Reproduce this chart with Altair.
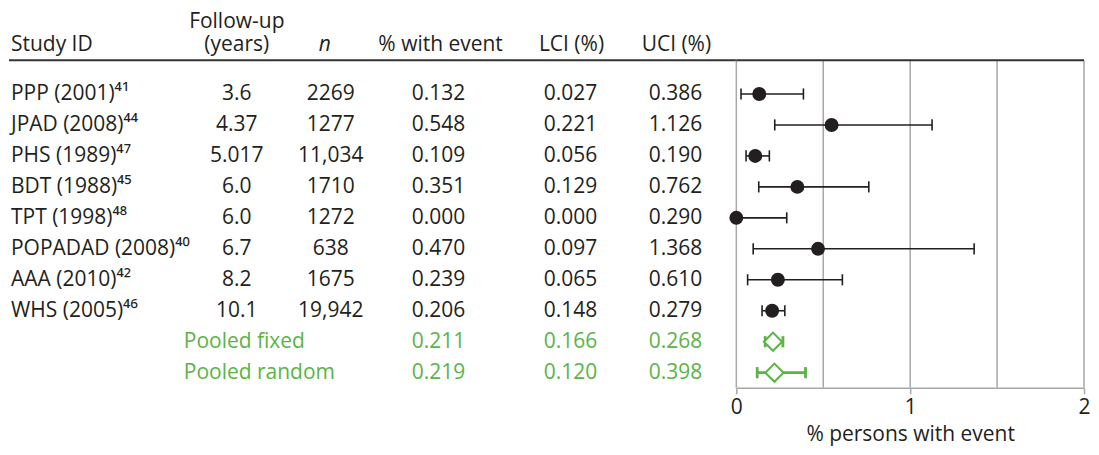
import altair as alt
import pandas as pd

# ---------------- data ----------------
studies = ["PPP (2001)⁴¹", "JPAD (2008)⁴⁴", "PHS (1989)⁴⁷", "BDT (1988)⁴⁵",
           "TPT (1998)⁴⁸", "POPADAD (2008)⁴⁰", "AAA (2010)⁴²", "WHS (2005)⁴⁶"]
followup = ["3.6", "4.37", "5.017", "6.0", "6.0", "6.7", "8.2", "10.1"]
n_values = ["2269", "1277", "11,034", "1710", "1272", "638", "1675", "19,942"]
pct = [0.132, 0.548, 0.109, 0.351, 0.000, 0.470, 0.239, 0.206]
lci = [0.027, 0.221, 0.056, 0.129, 0.000, 0.097, 0.065, 0.148]
uci = [0.386, 1.126, 0.190, 0.762, 0.290, 1.368, 0.610, 0.279]

pooled_labels = ["Pooled fixed", "Pooled random"]
pooled_pct = [0.211, 0.219]
pooled_lci = [0.166, 0.120]
pooled_uci = [0.268, 0.398]

grid_values = [0, 0.5, 1, 1.5, 2]
tick_values = [0, 1, 2]
x_title = "% persons with event"

header_cols = ["study", "fu", "fu", "n", "pct", "lci", "uci"]
header_text = ["Study ID", "Follow-up", "(years)", "n", "% with event", "LCI (%)", "UCI (%)"]
header_line = [1, 0, 1, 1, 1, 1, 1]

# ---------------- style / layout ----------------
FONT = "Open Sans"
FS = 21
DARK = "#231f20"
GREEN = "#5ab446"
GRID = "#a8a8a8"

TABLE_W, PLOT_W, H = 728, 348, 380
col_x = {"study": 2, "pooled": 175, "fu": 228, "n": 322, "pct": 430, "lci": 562, "uci": 667}
hdr_dx = {"study": 0, "fu": 0, "n": -6, "pct": 2, "lci": 1, "uci": 1}
line_y = [14, 37]
kind_scale = alt.Scale(domain=["study", "pooled"], range=[DARK, GREEN])
y_scale = alt.Scale(domain=[-2.77, 9.49], reverse=True, nice=False, zero=False)

# ---------------- frames ----------------
rows = []
for i, s in enumerate(studies):
    rows.append(dict(row=i, kind="study", label=s, pct=pct[i], lci=lci[i], uci=uci[i]))
for j, p in enumerate(pooled_labels):
    rows.append(dict(row=len(studies) + j, kind="pooled", label=p,
                     pct=pooled_pct[j], lci=pooled_lci[j], uci=pooled_uci[j]))
df = pd.DataFrame(rows)

cells = []
for i in range(len(studies)):
    cells.append(dict(row=i, kind="study", col="fu", txt=followup[i]))
    cells.append(dict(row=i, kind="study", col="n", txt=n_values[i]))
for r in rows:
    for c in ["pct", "lci", "uci"]:
        cells.append(dict(row=r["row"], kind=r["kind"], col=c, txt=f"{r[c]:.3f}"))
cells_df = pd.DataFrame(cells)
cells_df["xp"] = cells_df["col"].map(col_x)

labels_df = pd.DataFrame([dict(row=r["row"], kind=r["kind"], label=r["label"],
                               col="study" if r["kind"] == "study" else "pooled") for r in rows])
labels_df["xp"] = labels_df["col"].map(col_x)

hdr_df = pd.DataFrame(dict(col=header_cols, txt=header_text, line=header_line))
hdr_df["xp"] = hdr_df["col"].map(col_x) + hdr_df["col"].map(hdr_dx)
hdr_df["yp"] = [line_y[l] for l in header_line]

xp = alt.X("xp:Q", scale=None, axis=None)
ycol = alt.Y("row:Q", scale=y_scale, axis=None)
color_enc = alt.Color("kind:N", scale=kind_scale, legend=None)

# ---------------- table panel ----------------
names = alt.Chart(labels_df).mark_text(
    align="left", baseline="middle", font=FONT, fontSize=FS
).encode(x=xp, y=ycol, text="label:N", color=color_enc)

values = alt.Chart(cells_df).mark_text(
    align="center", baseline="middle", font=FONT, fontSize=FS
).encode(x=xp, y=ycol, text="txt:N", color=color_enc)

hdr_center = alt.Chart(hdr_df).transform_filter(
    "datum.col != 'study' && datum.col != 'n'"
).mark_text(
    align="center", baseline="middle", font=FONT, fontSize=FS, color=DARK
).encode(x=xp, y=alt.Y("yp:Q", scale=None, axis=None), text="txt:N")

hdr_study = alt.Chart(hdr_df).transform_filter("datum.col == 'study'").mark_text(
    align="left", baseline="middle", font=FONT, fontSize=FS, color=DARK
).encode(x=xp, y=alt.Y("yp:Q", scale=None, axis=None), text="txt:N")

hdr_n = alt.Chart(hdr_df).transform_filter("datum.col == 'n'").mark_text(
    align="center", baseline="middle", font=FONT, fontSize=FS, color=DARK,
    fontStyle="italic"
).encode(x=xp, y=alt.Y("yp:Q", scale=None, axis=None), text="txt:N")

hdr_rule = alt.Chart(pd.DataFrame(dict(a=[0]))).mark_rule(
    color="#333333", strokeWidth=2
).encode(x=alt.value(0), x2=alt.value(TABLE_W), y=alt.value(52))

table = alt.layer(hdr_rule, names, values, hdr_center, hdr_study, hdr_n).resolve_scale(
    y="independent"
).properties(width=TABLE_W, height=H)

# ---------------- forest panel ----------------
xaxis = alt.Axis(
    values=tick_values, labelExpr="format(datum.value, '.0f')", grid=False,
    domainColor=GRID, domainWidth=1.5, tickColor=GRID, tickWidth=1.5, tickSize=6,
    labelFont=FONT, labelFontSize=FS, labelColor=DARK, labelPadding=3,
    labelFlush=False, labelOverlap=False,
    title=x_title, titleFont=FONT, titleFontSize=FS, titleFontWeight="normal",
    titleColor=DARK, titlePadding=6,
)
x_scale = alt.Scale(domain=[0, 2], nice=False, zero=False)

grid = alt.Chart(pd.DataFrame(dict(g=grid_values))).mark_rule(
    color=GRID, strokeWidth=1.5
).encode(x=alt.X("g:Q", scale=x_scale, axis=xaxis), y=alt.value(52), y2=alt.value(H))

top_rule = alt.Chart(pd.DataFrame(dict(a=[0]))).mark_rule(
    color="#333333", strokeWidth=2
).encode(x=alt.value(0), x2=alt.value(PLOT_W), y=alt.value(52))

sw = alt.StrokeWidth("kind:N", scale=alt.Scale(domain=["study", "pooled"], range=[1.6, 2.8]), legend=None)

ci = alt.Chart(df).mark_rule().encode(
    x=alt.X("lci:Q", scale=x_scale, axis=xaxis), x2="uci:Q",
    y=alt.Y("row:Q", scale=y_scale, axis=None), color=color_enc, strokeWidth=sw,
)

caps_df = df.melt(id_vars=["row", "kind"], value_vars=["lci", "uci"], var_name="end", value_name="v")
caps = alt.Chart(caps_df).transform_calculate(
    lo="datum.row - 0.18", hi="datum.row + 0.18"
).mark_rule().encode(
    x=alt.X("v:Q", scale=x_scale, axis=xaxis),
    y=alt.Y("lo:Q", scale=y_scale, axis=None), y2="hi:Q",
    color=color_enc, strokeWidth=sw,
)

dots = alt.Chart(df).transform_filter("datum.kind == 'study'").mark_point(
    shape="circle", filled=True, size=195, opacity=1, color=DARK
).encode(x=alt.X("pct:Q", scale=x_scale, axis=xaxis), y=alt.Y("row:Q", scale=y_scale, axis=None))

diamonds = alt.Chart(df).transform_filter("datum.kind == 'pooled'").mark_point(
    shape="diamond", filled=True, fill="white", stroke=GREEN, strokeWidth=2,
    size=330, opacity=1
).encode(x=alt.X("pct:Q", scale=x_scale, axis=xaxis), y=alt.Y("row:Q", scale=y_scale, axis=None))

forest = alt.layer(grid, top_rule, ci, caps, dots, diamonds).properties(width=PLOT_W, height=H)

chart = alt.hconcat(table, forest, spacing=0, bounds="flush").properties(
    padding={"left": 0, "top": 0, "right": 0, "bottom": 1}
).configure_view(stroke=None)

chart.save("out.html", embed_options={"renderer": "svg", "actions": False})
